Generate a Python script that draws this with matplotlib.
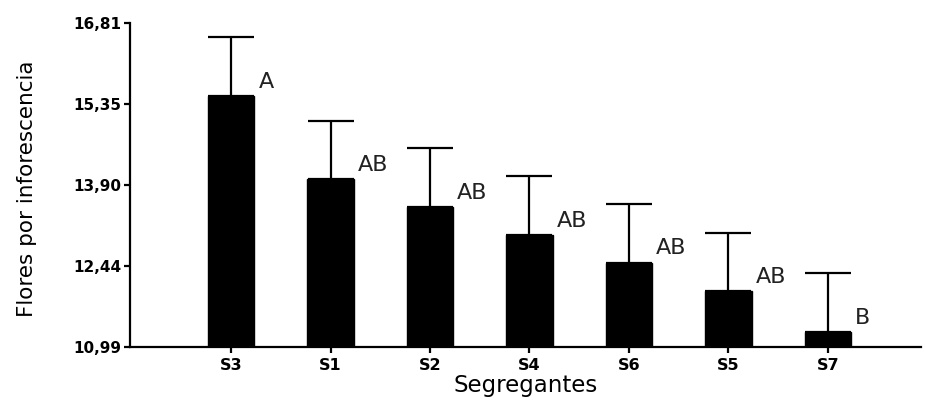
import matplotlib
matplotlib.use("Agg")
import matplotlib.pyplot as plt

# Flowers per inflorescence for each segregant (mean and upper error)
segregants = ["S3", "S1", "S2", "S4", "S6", "S5", "S7"]
means = [15.49, 14.00, 13.50, 12.99, 12.50, 11.99, 11.25]
errors = [1.06, 1.05, 1.06, 1.06, 1.06, 1.05, 1.06]
groups = ["A", "AB", "AB", "AB", "AB", "AB", "B"]
ytick_values = [10.99, 12.44, 13.90, 15.35, 16.81]
ytick_labels = ["10,99", "12,44", "13,90", "15,35", "16,81"]

plt.rcParams["font.family"] = ["DejaVu Sans"]

fig = plt.figure(figsize=(9.26, 4.03), dpi=100)
ax = fig.add_axes([0.1404, 0.1397, 0.995 - 0.1404, 0.9437 - 0.1397])

x = list(range(len(segregants)))
bar_w = 0.465
ax.bar(x, means, width=bar_w, color="black", edgecolor="black", zorder=2)
ax.errorbar(x, means, yerr=[[0] * len(errors), errors], fmt="none",
            ecolor="black", elinewidth=1.6, capsize=16.8, capthick=1.6, zorder=1)

for xi, m, g in zip(x, means, groups):
    ax.annotate(g, xy=(xi + bar_w / 2, m), xytext=(3, 3), textcoords="offset points",
                ha="left", va="bottom", fontsize=16, color="#222222")

ax.set_ylim(ytick_values[0], ytick_values[-1])
ax.set_xlim(-1.016, 6.94)
ax.set_yticks(ytick_values)
ax.set_yticklabels(ytick_labels, fontsize=11, fontweight="bold")
ax.set_xticks(x)
ax.set_xticklabels(segregants, fontsize=11.5, fontweight="bold")

for side in ("top", "right"):
    ax.spines[side].set_visible(False)
for side in ("left", "bottom"):
    ax.spines[side].set_linewidth(1.6)
ax.tick_params(axis="both", direction="out", length=4, width=1.6, pad=2)
ax.tick_params(axis="x", pad=4)

ax.set_xlabel("Segregantes", fontsize=16.5, labelpad=1)
fig.text(0.029, 0.532, "Flores por inforescencia", rotation=90,
         ha="center", va="center", fontsize=15.5)

fig.savefig("out.png", dpi=100)
